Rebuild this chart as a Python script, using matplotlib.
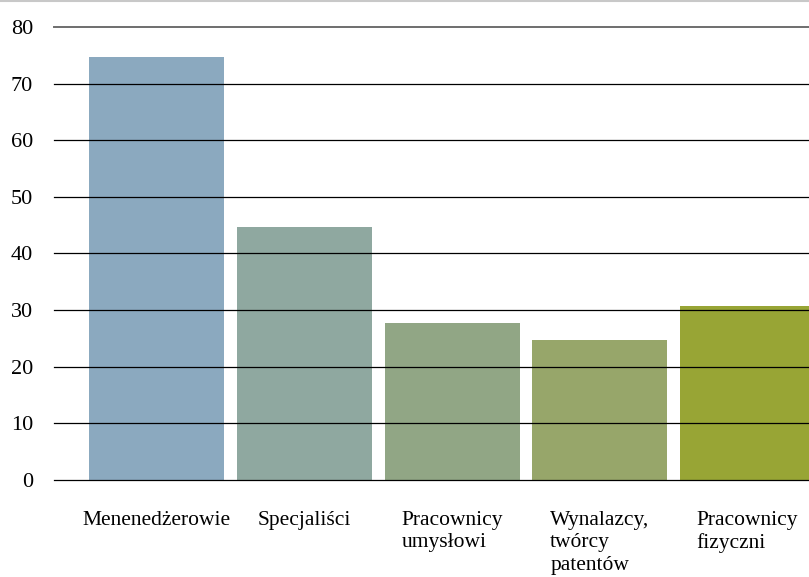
import numpy as np
import matplotlib.pyplot as plt
from matplotlib.lines import Line2D

# Categories and values
categories = ['Menenedżerowie', 'Specjaliści', 'Pracownicy\numysłowi',
              'Wynalazcy,\ntwórcy\npatentów', 'Pracownicy\nfizyczni']
values = [74.7, 44.7, 27.8, 24.7, 30.8]
colors = ['#8ba9bf', '#8fa8a0', '#91a685', '#97a66a', '#98a535']
yticks = [0, 10, 20, 30, 40, 50, 60, 70, 80]

plt.rcParams['font.family'] = ['Liberation Serif', 'DejaVu Serif']

fig = plt.figure(figsize=(8.09, 5.77), dpi=100)
ax = fig.add_axes([54/809, 1 - 480/577, 1 - 54/809, 453/577])

x = np.arange(len(categories))
ax.bar(x, values, width=0.914, color=colors, zorder=1)

for t in yticks:
    if t == 80:
        ax.axhline(t, color='#6e6e6e', lw=1.4, zorder=3, clip_on=False)
    else:
        ax.axhline(t, color='black', lw=0.9, zorder=3, clip_on=False)

ax.set_xlim(-0.694, 4.416)
ax.set_ylim(0, 80)
ax.set_yticks(yticks)
ax.set_yticklabels([str(t) for t in yticks], fontsize=16)
ax.tick_params(axis='y', length=0, pad=15)

ax.set_xticks(x)
ax.set_xticklabels(categories, fontsize=15.5, linespacing=1.25)
for lbl in ax.get_xticklabels():
    lbl.set_multialignment('left')
ax.tick_params(axis='x', length=0, pad=22)

for s in ax.spines.values():
    s.set_visible(False)

# thin grey border line at the top of the image
fig.add_artist(Line2D([0, 1], [0.999, 0.999], transform=fig.transFigure,
                      color='#c8c8c8', lw=1.5))

fig.savefig('out.png', dpi=100)
